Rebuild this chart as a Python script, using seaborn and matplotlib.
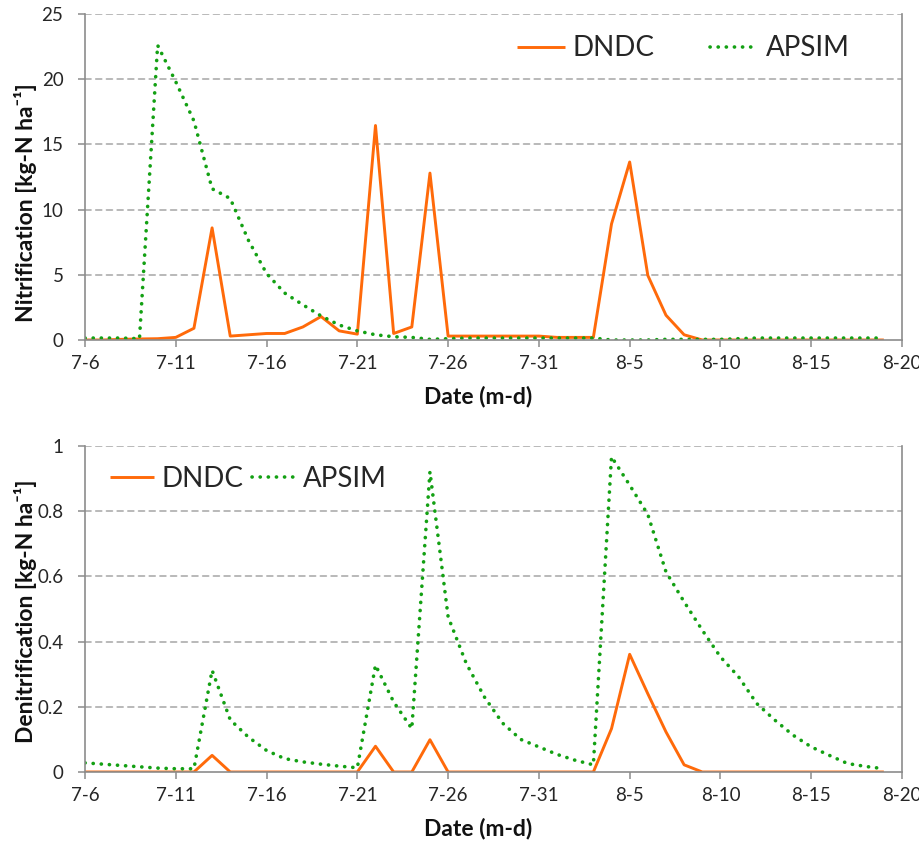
import numpy as np
import pandas as pd
import matplotlib
matplotlib.use("Agg")
import matplotlib.pyplot as plt
import seaborn as sns

# Daily simulation output, 6 July to 19 August
start_date = "2013-07-06"
n_days = 45

nitrif_dndc = [0.0, 0.0, 0.05, 0.08, 0.1, 0.2, 0.9, 8.6, 0.3, 0.4,
               0.5, 0.5, 1.0, 1.8, 0.7, 0.45, 16.45, 0.5, 1.0, 12.8,
               0.3, 0.3, 0.3, 0.3, 0.3, 0.3, 0.2, 0.2, 0.2, 8.9,
               13.65, 4.95, 1.9, 0.4, 0.0, 0.0, 0.0, 0.0, 0.0, 0.0,
               0.0, 0.0, 0.0, 0.0, 0.0]
nitrif_apsim = [0.15, 0.15, 0.15, 0.1, 22.6, 19.8, 16.8, 11.6, 10.85, 7.65,
                5.1, 3.6, 2.7, 1.85, 1.15, 0.7, 0.4, 0.25, 0.2, 0.05,
                0.1, 0.15, 0.15, 0.15, 0.15, 0.15, 0.15, 0.15, 0.15, 0.0,
                0.0, 0.0, 0.05, 0.05, 0.05, 0.05, 0.1, 0.15, 0.15, 0.15,
                0.15, 0.15, 0.15, 0.15, 0.15]

denit_dndc = [0.0, 0.0, 0.0, 0.0, 0.0, 0.0, 0.0, 0.051, 0.0, 0.0,
              0.0, 0.0, 0.0, 0.0, 0.0, 0.0, 0.079, 0.0, 0.0, 0.099,
              0.0, 0.0, 0.0, 0.0, 0.0, 0.0, 0.0, 0.0, 0.0, 0.133,
              0.361, 0.24, 0.123, 0.022, 0.0, 0.0, 0.0, 0.0, 0.0, 0.0,
              0.0, 0.0, 0.0, 0.0, 0.0]
denit_apsim = [0.028, 0.024, 0.02, 0.016, 0.012, 0.01, 0.01, 0.312, 0.16, 0.107,
               0.066, 0.041, 0.031, 0.024, 0.018, 0.013, 0.328, 0.215, 0.133, 0.921,
               0.476, 0.333, 0.23, 0.15, 0.1, 0.077, 0.054, 0.036, 0.022, 0.967,
               0.88, 0.79, 0.614, 0.522, 0.435, 0.353, 0.292, 0.21, 0.159, 0.113,
               0.077, 0.051, 0.026, 0.017, 0.01]

tick_dates = ["2013-07-06", "2013-07-11", "2013-07-16", "2013-07-21", "2013-07-26",
              "2013-07-31", "2013-08-05", "2013-08-10", "2013-08-15", "2013-08-20"]
tick_labels = ["7-6", "7-11", "7-16", "7-21", "7-26", "7-31", "8-5", "8-10", "8-15", "8-20"]

models = ["DNDC", "APSIM"]
colors = {"DNDC": "#FF6A0A", "APSIM": "#13A013"}

sns.set_theme(style="white")
plt.rcParams["font.family"] = ["Lato", "DejaVu Sans"]
plt.rcParams["lines.dash_capstyle"] = "round"
plt.rcParams["lines.solid_capstyle"] = "butt"

dates = pd.date_range(start_date, periods=n_days, freq="D")


def long_frame(dndc, apsim):
    return pd.DataFrame({
        "date": np.concatenate([dates, dates]),
        "value": np.concatenate([dndc, apsim]),
        "model": ["DNDC"] * n_days + ["APSIM"] * n_days,
    })


fig = plt.figure(figsize=(9.2, 8.48), dpi=100)
ax_top = fig.add_axes([85 / 920, 1 - 340 / 848, 817 / 920, 326 / 848])
ax_bot = fig.add_axes([85 / 920, 1 - 772 / 848, 817 / 920, 326 / 848])

panels = [
    (ax_top, long_frame(nitrif_dndc, nitrif_apsim), 25, [0, 5, 10, 15, 20, 25],
     "Nitrification [kg-N ha\u207b\u00b9]", 0.42),
    (ax_bot, long_frame(denit_dndc, denit_apsim), 1, [0, 0.2, 0.4, 0.6, 0.8, 1],
     "Denitrification [kg-N ha\u207b\u00b9]", 0.494),
]

grid_col = "#A6A6A6"
spine_col = "#8C8C8C"

for ax, df, ymax, yt, ylabel, ylab_y in panels:
    sns.lineplot(data=df[df.model == "DNDC"], x="date", y="value", ax=ax,
                 color=colors["DNDC"], linewidth=2.1, label="DNDC")
    sns.lineplot(data=df[df.model == "APSIM"], x="date", y="value", ax=ax,
                 color=colors["APSIM"], linewidth=2.6, label="APSIM",
                 dashes=False)
    ax.lines[1].set_dashes((0.05, 2.2))

    ax.set_xlim(pd.Timestamp(tick_dates[0]), pd.Timestamp(tick_dates[-1]))
    ax.set_ylim(0, ymax)
    ax.set_xticks(pd.to_datetime(tick_dates))
    ax.set_xticklabels(tick_labels)
    ax.set_yticks(yt)
    ax.set_yticklabels([f"{v:g}" for v in yt])

    for y in yt[1:]:
        ax.axhline(y, color=grid_col, linewidth=1.1, linestyle=(0, (4, 3)), zorder=0)

    ax.spines["top"].set_visible(False)
    for side in ["left", "right", "bottom"]:
        ax.spines[side].set_color(spine_col)
        ax.spines[side].set_linewidth(1.2)

    ax.tick_params(axis="both", which="major", direction="out", length=5,
                   width=1.1, color=spine_col, labelsize=13.5, labelcolor="#262626",
                   bottom=True, left=True)
    ax.tick_params(axis="x", pad=6)
    ax.tick_params(axis="y", pad=10.5)

    ax.set_xlabel("Date (m-d)", fontsize=16.5, fontweight="bold", color="#111111")
    ax.xaxis.set_label_coords(0.481, -0.14)
    ax.xaxis.label.set_verticalalignment("top")
    ax.set_ylabel(ylabel, fontsize=16.5, fontweight="bold", color="#111111")
    ax.yaxis.set_label_coords(-0.0734, ylab_y)
    ax.yaxis.label.set_verticalalignment("center")

ax_top.legend(loc="center", bbox_to_anchor=(0.732, 0.895), ncol=2, frameon=False,
              fontsize=20, handlelength=1.75, handletextpad=0.25, columnspacing=2.0,
              borderaxespad=0)
ax_bot.legend(loc="center", bbox_to_anchor=(0.2, 0.9), ncol=2, frameon=False,
              fontsize=20, handlelength=1.6, handletextpad=0.25, columnspacing=0.3,
              borderaxespad=0)

fig.savefig("out.png", dpi=100, facecolor="white")
